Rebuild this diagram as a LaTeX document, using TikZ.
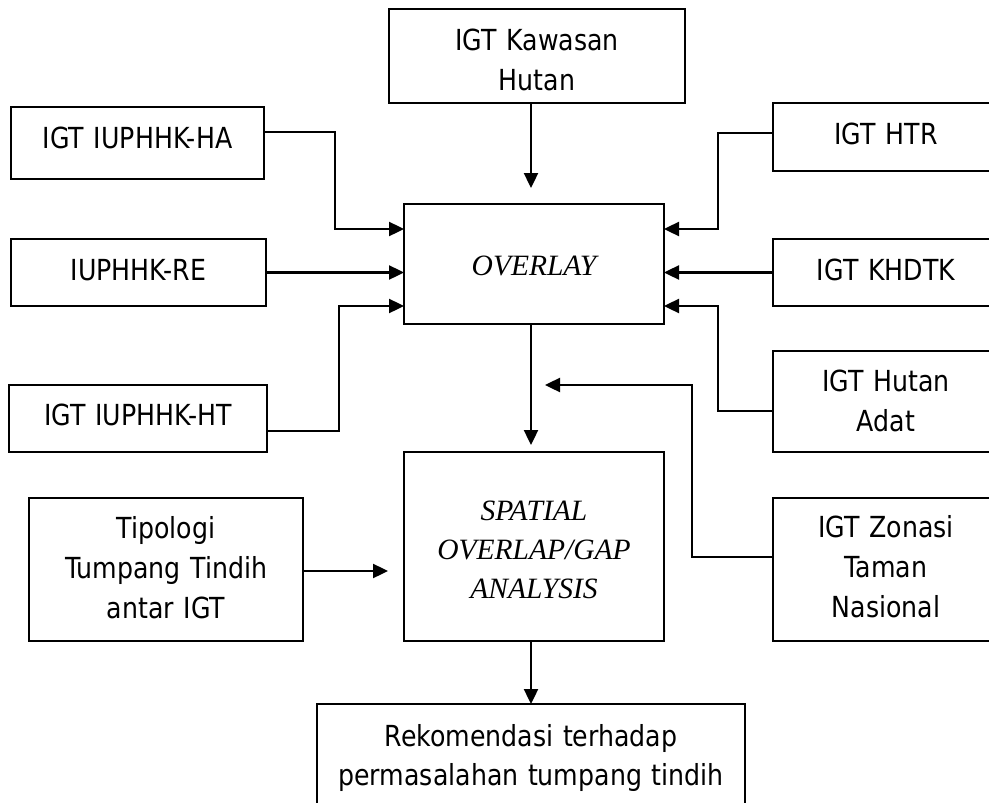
\documentclass[tikz,border=0pt]{standalone}
\usepackage{fontspec}
\setmainfont{Liberation Serif}
\newfontfamily\dvs[FakeStretch=0.87]{DejaVu Sans}
\usetikzlibrary{arrows.meta}
\begin{document}
\begin{tikzpicture}[x=1pt,y=-1pt,
  box/.style={draw, line width=1.8pt, inner sep=0pt, outer sep=0pt, align=center},
  sf/.style={font=\dvs\fontsize{29}{40}\selectfont},
  sfr/.style={font=\dvs\fontsize{29}{39}\selectfont},
  itf/.style={font=\fontsize{29.5}{39}\selectfont\itshape},
  conn/.style={line width=2.4pt, -{Triangle[length=15pt,width=14pt]}}]
\useasboundingbox (0,0) rectangle (989,803);
\fill[white] (0,0) rectangle (989,803);
\clip (0,0) rectangle (989,803);

% boxes
\node[box,sf,minimum width=296pt,minimum height=94pt,text width=286pt,text height=28pt,text depth=40pt] (kaw) at (537,56) {IGT Kawasan\\Hutan};
\node[box,sf,minimum width=253pt,minimum height=72pt,text width=243pt,text height=10pt,text depth=0pt] (ha) at (137.5,143) {IGT IUPHHK-HA};
\node[box,sf,minimum width=255pt,minimum height=67pt,text width=245pt,text height=15pt,text depth=0pt] (re) at (138.5,272.5) {IUPHHK-RE};
\node[box,sf,minimum width=258pt,minimum height=67pt,text width=248pt,text height=13pt,text depth=0pt] (ht) at (138,418.5) {IGT IUPHHK-HT};
\node[box,itf,minimum width=260pt,minimum height=120pt,text width=250pt,text height=22pt,text depth=0pt] (ov) at (534,264) {OVERLAY};
\node[box,sf,minimum width=226pt,minimum height=68pt,text width=216pt,text height=14pt,text depth=0pt] (htr) at (886,137) {IGT HTR};
\node[box,sf,minimum width=226pt,minimum height=67pt,text width=216pt,text height=15pt,text depth=0pt] (kh) at (886,272.5) {IGT KHDTK};
\node[box,sf,minimum width=226pt,minimum height=101pt,text width=216pt,text height=19pt,text depth=40pt] (adat) at (886,401.5) {IGT Hutan\\Adat};
\node[box,itf,minimum width=260pt,minimum height=189pt,text width=250pt,text height=25pt,text depth=78pt] (sp) at (534,546.5) {SPATIAL\\OVERLAP/GAP\\ANALYSIS};
\node[box,sf,minimum width=274pt,minimum height=143pt,text width=264pt,text height=17pt,text depth=80pt] (tip) at (166,569.5) {Tipologi\\Tumpang Tindih\\antar IGT};
\node[box,sf,minimum width=226pt,minimum height=143pt,text width=216pt,text height=15pt,text depth=80pt] (zon) at (886,569.5) {IGT Zonasi\\Taman\\Nasional};
\node[box,sfr,minimum width=428pt,minimum height=112pt,text width=418pt,text height=11pt,text depth=39pt] (rek) at (531,760) {Rekomendasi terhadap\\permasalahan tumpang tindih};

% helper coordinates
\coordinate (cx) at (531,0);
\coordinate (zb) at (692,385);
\coordinate (ze) at (545,385);

% connectors
\draw[conn, shorten >=16pt] (kaw.south -| cx) -- (ov.north -| cx);
\draw[conn] ([yshift=11pt]ha.east) -| ([xshift=-69pt,yshift=35pt]ov.west) -- ([yshift=35pt]ov.west);
\draw[conn] (re.east) -- (ov.west |- re.east);
\draw[conn] ([yshift=-12.5pt]ht.east) -| ([xshift=-65pt,yshift=-42pt]ov.west) -- ([yshift=-42pt]ov.west);
\draw[conn] ([yshift=4pt]htr.west) -| ([xshift=54pt,yshift=35pt]ov.east) -- ([yshift=35pt]ov.east);
\draw[conn] (kh.west) -- (ov.east |- kh.west);
\draw[conn] ([yshift=-9.5pt]adat.west) -| ([xshift=54pt,yshift=-42pt]ov.east) -- ([yshift=-42pt]ov.east);
\draw[conn, shorten >=7pt] (ov.south -| cx) -- (sp.north -| cx);
\draw[conn] ([yshift=12.5pt]zon.west) -| (zb) -- (ze);
\draw[conn, shorten >=16pt] ([yshift=-1.5pt]tip.east) -- ([yshift=-1.5pt]sp.west |- tip.east);
\draw[conn] (sp.south -| cx) -- (rek.north -| cx);
\end{tikzpicture}
\end{document}
